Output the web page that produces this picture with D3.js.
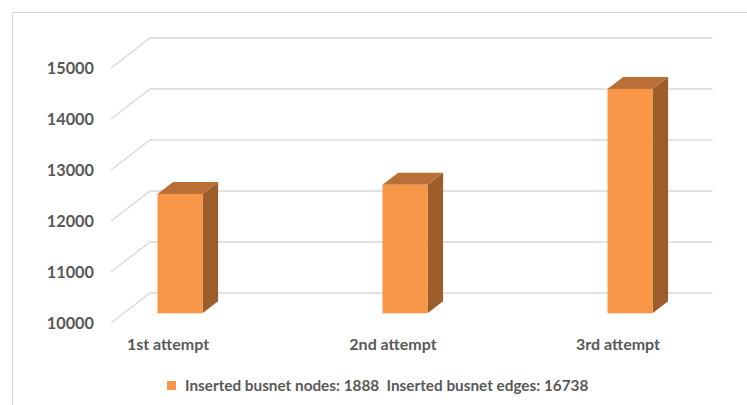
<!DOCTYPE html>
<html>
<head>
<meta charset="utf-8">
<script src="https://cdn.jsdelivr.net/npm/d3@7"></script>
<style>
  html, body { margin: 0; padding: 0; background: #fff; }
  svg { display: block; }
  text { font-family: Lato, "Open Sans", sans-serif; font-weight: 700; fill: #595959; }
</style>
</head>
<body>
<svg id="chart" width="747" height="405"></svg>
<script>
// Chart data
const categories = ["1st attempt", "2nd attempt", "3rd attempt"];
const values = [12340, 12520, 14400];
const tickValues = [10000, 11000, 12000, 13000, 14000, 15000];
const seriesLabel = "Inserted busnet nodes: 1888  Inserted busnet edges: 16738";

const svg = d3.select("#chart");

// Outer chart frame
svg.append("rect")
  .attr("x", 12.5).attr("y", 12.5)
  .attr("width", 760).attr("height", 420)
  .attr("fill", "none").attr("stroke", "#d9d9d9").attr("stroke-width", 1);

// Back wall value scale and wall extent
const y = d3.scaleLinear().domain([10000, 15000]).range([293, 38]);
const wallLeft = 150, wallRight = 712.5;
// Floor depth vector: from back wall toward the viewer
const depth = { dx: -39, dy: 30 };
const barFront = 0.677, barBack = 0.277;

// Category scale for bar positions
const x = d3.scaleBand().domain(categories).range([67.5, 742.5]);
const barW = x.bandwidth() * 0.2;

// Gridlines: back wall line plus the diagonal on the side wall
const grid = svg.append("g").attr("stroke", "#d9d9d9").attr("stroke-width", 1.3).attr("fill", "none");
tickValues.forEach(v => {
  const yy = y(v);
  grid.append("path")
    .attr("d", `M${wallLeft + depth.dx},${yy + depth.dy}L${wallLeft},${yy}L${wallRight},${yy}`);
});

// Tick labels at the front end of each diagonal
svg.append("g").selectAll("text").data(tickValues).join("text")
  .attr("x", 94)
  .attr("y", d => y(d) + depth.dy)
  .attr("dy", "0.36em")
  .attr("text-anchor", "end")
  .style("font-size", "16.3px")
  .text(d => d);

// 3D bars: side, top, front
const bars = svg.append("g").selectAll("g").data(values).join("g");
const off = {
  dx: (barBack - barFront) * depth.dx,
  dy: (barBack - barFront) * depth.dy
};
bars.each(function (v, i) {
  const g = d3.select(this);
  const cx = x(categories[i]) + x.bandwidth() / 2;
  const x0 = cx - barW / 2, x1 = cx + barW / 2;
  const yt = y(v) + barFront * depth.dy;
  const yb = y(10000) + barFront * depth.dy;
  g.append("path")
    .attr("d", `M${x1},${yt}L${x1 + off.dx},${yt + off.dy}L${x1 + off.dx},${yb + off.dy}L${x1},${yb}Z`)
    .attr("fill", "#9c5d2b");
  g.append("path")
    .attr("d", `M${x0},${yt}L${x1},${yt}L${x1 + off.dx},${yt + off.dy}L${x0 + off.dx},${yt + off.dy}Z`)
    .attr("fill", "#b96f36");
  g.append("rect")
    .attr("x", x0).attr("y", yt)
    .attr("width", barW).attr("height", yb - yt)
    .attr("fill", "#f79646");
});

// Category labels
svg.append("g").selectAll("text").data(categories).join("text")
  .attr("x", d => x(d) + x.bandwidth() / 2 - 12)
  .attr("y", 349.5)
  .attr("text-anchor", "middle")
  .style("font-size", "16px")
  .text(d => d);

// Legend
const legend = svg.append("g");
legend.append("rect")
  .attr("x", 167).attr("y", 381).attr("width", 9).attr("height", 9)
  .attr("fill", "#f79646");
legend.append("text")
  .attr("x", 185).attr("y", 391)
  .attr("xml:space", "preserve")
  .style("white-space", "pre")
  .style("font-size", "15.3px")
  .text(seriesLabel);
</script>
</body>
</html>
